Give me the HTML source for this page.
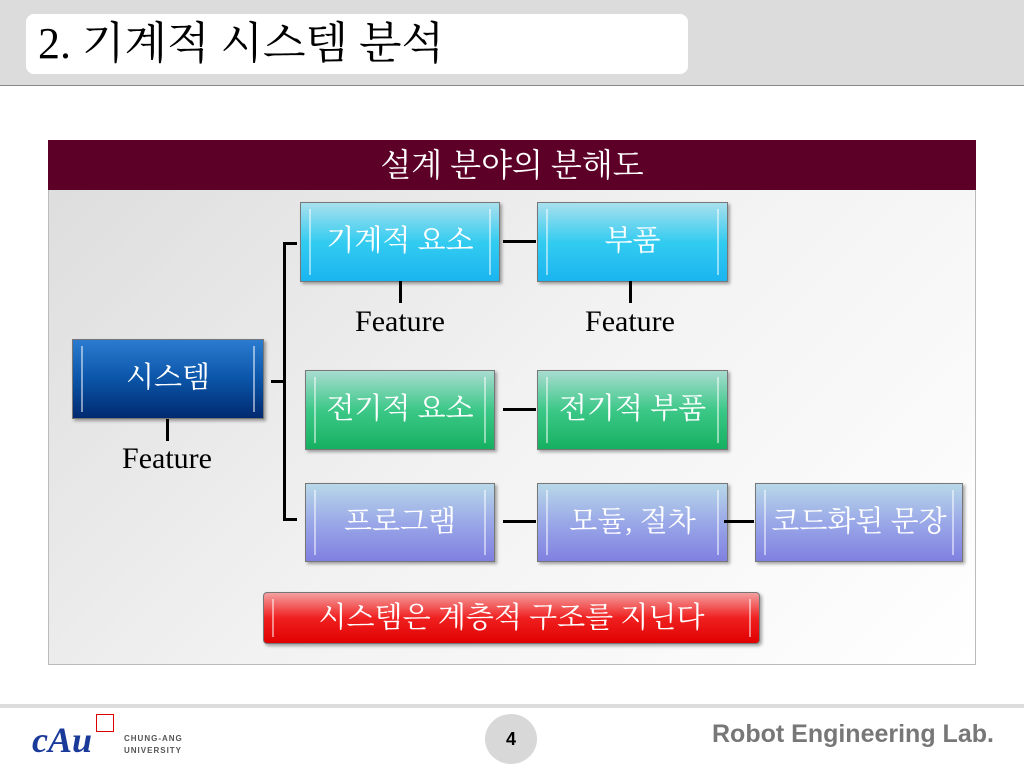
<!DOCTYPE html>
<html><head><meta charset="utf-8"><style>
*{margin:0;padding:0;box-sizing:border-box}
body{width:1024px;height:768px;background:#fff;position:relative;overflow:hidden;font-family:"Liberation Serif","Noto Serif CJK SC","Noto Sans CJK KR",serif}
.a{position:absolute}
.hdr{left:0;top:0;width:1024px;height:86px;background:#dcdcdc;border-bottom:1px solid #888}
.tb{left:26px;top:14px;width:662px;height:60px;background:#fff;border-radius:8px;font-size:44px;line-height:60px;padding-left:12px;color:#000;white-space:nowrap}
.panel{left:48px;top:140px;width:928px;height:525px;border:1px solid #bbb;background:linear-gradient(135deg,#dcdcdc,#f2f2f2 50%,#fff)}
.ph{left:48px;top:140px;width:928px;height:50px;background:#5c0028;color:#fff;font-size:32px;text-align:center;line-height:50px}
.bx{position:absolute;color:#fff;font-size:29px;text-align:center;border:1px solid #777;box-shadow:2px 2px 3px rgba(0,0,0,.35);line-height:76px;white-space:nowrap}
.bx:before{content:"";position:absolute;left:8px;right:8px;top:6px;bottom:6px;border-left:2px solid rgba(255,255,255,.5);border-right:2px solid rgba(255,255,255,.5)}
.cy{background:linear-gradient(#a8e0ee,#33ccf0 50%,#1ab4f0)}
.gr{background:linear-gradient(#a8dcd0,#3cc888 50%,#16b060)}
.pu{background:linear-gradient(#b8d8e8,#9aa8e8 50%,#8080e0)}
.ln{position:absolute;background:#000}
.ft{position:absolute;font-size:30px;color:#000;text-align:center;width:200px}
</style></head><body>
<div class="a hdr"></div>
<div class="a tb">2. 기계적 시스템 분석</div>
<div class="a panel"></div>
<div class="a ph">설계 분야의 분해도</div>

<div class="bx" style="left:72px;top:339px;width:192px;height:80px;background:linear-gradient(#2a7cd0,#0b55a8 50%,#002a70)">시스템</div>
<div class="bx cy" style="left:300px;top:202px;width:200px;height:80px">기계적 요소</div>
<div class="bx cy" style="left:537px;top:202px;width:191px;height:80px">부품</div>
<div class="bx gr" style="left:305px;top:370px;width:190px;height:80px">전기적 요소</div>
<div class="bx gr" style="left:537px;top:370px;width:191px;height:80px">전기적 부품</div>
<div class="bx pu" style="left:305px;top:483px;width:190px;height:79px">프로그램</div>
<div class="bx pu" style="left:537px;top:483px;width:191px;height:79px">모듈, 절차</div>
<div class="bx pu" style="left:755px;top:483px;width:208px;height:79px">코드화된 문장</div>
<div class="bx" style="left:263px;top:592px;width:497px;height:52px;line-height:50px;background:linear-gradient(#f4a0a0,#f02020 50%,#e00000);border-radius:4px">시스템은 계층적 구조를 지닌다</div>

<div class="ln" style="left:283px;top:242px;width:3px;height:279px"></div>
<div class="ln" style="left:283px;top:242px;width:14px;height:3px"></div>
<div class="ln" style="left:283px;top:518px;width:14px;height:3px"></div>
<div class="ln" style="left:271px;top:380px;width:14px;height:3px"></div>
<div class="ln" style="left:503px;top:240px;width:33px;height:3px"></div>
<div class="ln" style="left:503px;top:408px;width:33px;height:3px"></div>
<div class="ln" style="left:503px;top:520px;width:33px;height:3px"></div>
<div class="ln" style="left:724px;top:520px;width:30px;height:3px"></div>
<div class="ln" style="left:399px;top:281px;width:3px;height:22px"></div>
<div class="ln" style="left:629px;top:281px;width:3px;height:22px"></div>
<div class="ln" style="left:166px;top:419px;width:3px;height:22px"></div>
<div class="ft" style="left:300px;top:305px">Feature</div>
<div class="ft" style="left:530px;top:305px">Feature</div>
<div class="ft" style="left:67px;top:442px">Feature</div>

<div class="a" style="left:0;top:704px;width:1024px;height:4px;background:#ddd"></div>
<div class="a" style="left:32px;top:718px;font:italic bold 36px/44px 'Liberation Serif',serif;color:#1a3a9a">cAu</div>
<div class="a" style="left:96px;top:714px;width:18px;height:18px;border:1px solid #d00"></div>
<div class="a" style="left:124px;top:733px;font:bold 8px/12px 'Liberation Sans',sans-serif;color:#555;letter-spacing:1px">CHUNG-ANG<br>UNIVERSITY</div>
<div class="a" style="left:485px;top:714px;width:52px;height:50px;border-radius:50%;background:#d8d8d8;text-align:center;font:bold 18px/50px 'Liberation Sans',sans-serif">4</div>
<div class="a" style="left:712px;top:719px;font:bold 25px/30px 'Liberation Sans',sans-serif;color:#777;white-space:nowrap">Robot Engineering Lab.</div>
</body></html>
